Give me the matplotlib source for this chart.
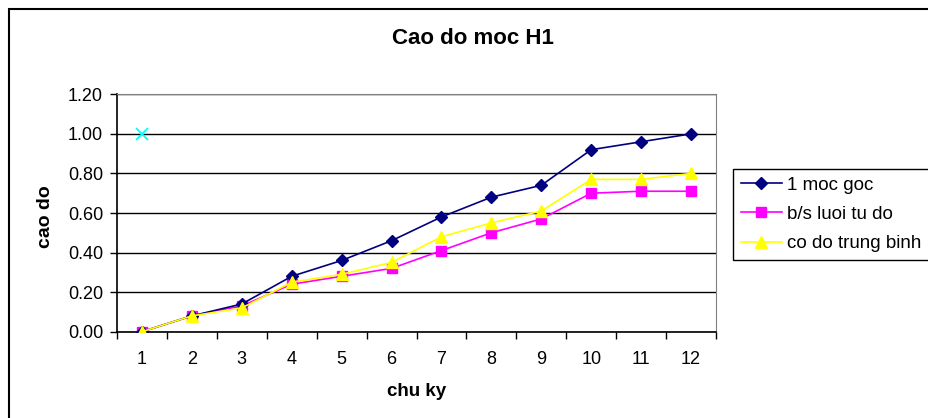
import matplotlib.pyplot as plt
from matplotlib.patches import Rectangle

plt.rcParams['font.family'] = ['Liberation Sans', 'DejaVu Sans']

# data
chu_ky = [1, 2, 3, 4, 5, 6, 7, 8, 9, 10, 11, 12]
moc_goc = [0.00, 0.08, 0.14, 0.28, 0.36, 0.46, 0.58, 0.68, 0.74, 0.92, 0.96, 1.00]
luoi_tu_do = [0.00, 0.08, 0.13, 0.24, 0.28, 0.32, 0.41, 0.50, 0.57, 0.70, 0.71, 0.71]
trung_binh = [0.00, 0.08, 0.12, 0.25, 0.29, 0.35, 0.48, 0.55, 0.61, 0.77, 0.77, 0.80]
extra_x = [1]
extra_y = [1.00]

fig = plt.figure(figsize=(9.29, 4.18), dpi=100)
ax = fig.add_axes([117/929, 1 - 331.7/418, 599/929, 237.4/418])

ax.plot(chu_ky, moc_goc, color='#000080', marker='D', markersize=6.5, lw=1.2, label='1 moc goc', zorder=4)
ax.plot(chu_ky, luoi_tu_do, color='#FF00FF', marker='s', markersize=7.5, lw=1.2, label='b/s luoi tu do', zorder=3)
ax.plot(chu_ky, trung_binh, color='#FFFF00', marker='^', markersize=8.5, lw=1.2, label='co do trung binh', zorder=5)
ax.plot(extra_x, extra_y, color='#00FFFF', marker='x', markersize=8, lw=0, mew=1.3, zorder=5)

ax.set_xlim(0.5, 12.5)
ax.set_ylim(0, 1.2)
ax.set_yticks([0, 0.2, 0.4, 0.6, 0.8, 1.0, 1.2])
ax.set_yticklabels(['%.2f' % v for v in [0, 0.2, 0.4, 0.6, 0.8, 1.0, 1.2]])
ax.set_xticks(chu_ky)
ax.set_xticks([i + 0.5 for i in range(0, 13)], minor=True)
ax.tick_params(axis='x', which='major', length=0, pad=14, labelsize=13)
ax.tick_params(axis='x', which='minor', length=5, direction='out', width=1)
ax.tick_params(axis='y', length=5, width=1, labelsize=13, pad=5)

ax.grid(axis='y', color='black', lw=1)
ax.set_axisbelow(True)
for s in ['top', 'right']:
    ax.spines[s].set_color('#808080')
for s in ['left', 'bottom']:
    ax.spines[s].set_color('black')
    ax.spines[s].set_linewidth(1.2)

fig.text(473/929, 1 - 38/418, 'Cao do moc H1', ha='center', va='center', fontsize=16, fontweight='bold')
fig.text(417/929, 1 - 391/418, 'chu ky', ha='center', va='center', fontsize=13.5, fontweight='bold')
fig.text(46/929, 1 - 217/418, 'cao do', ha='center', va='center', rotation=90, fontsize=14, fontweight='bold')

leg = fig.legend(loc='upper left', bbox_to_anchor=(733/929, 1 - 169/418), fontsize=13.5,
                 fancybox=False, edgecolor='black', framealpha=1, borderpad=0.4,
                 handlelength=2.2, labelspacing=0.65, handletextpad=0.3, borderaxespad=0)
leg.get_frame().set_linewidth(1)

fig.patches.append(Rectangle((9/929, -0.1), 1.0, 1 - 9/418 + 0.1, transform=fig.transFigure,
                             fill=False, edgecolor='black', lw=1.5))

plt.savefig('out.png', dpi=100)
